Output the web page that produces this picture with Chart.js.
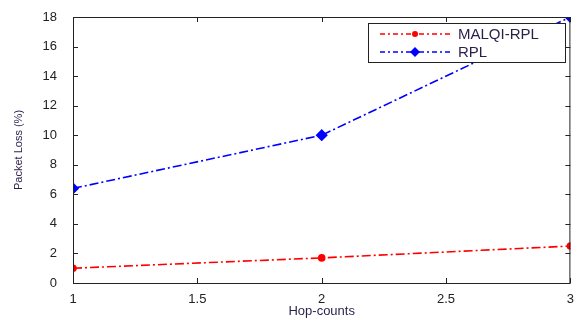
<!DOCTYPE html>
<html>
<head>
<meta charset="utf-8">
<script src="https://cdn.jsdelivr.net/npm/chart.js@4/dist/chart.umd.min.js"></script>
<style>
  body { margin: 0; background: #fff; }
  #wrap { width: 577px; height: 320px; }
</style>
</head>
<body>
<div id="wrap"><canvas id="lossChart" width="577" height="320"></canvas></div>
<script>
const hops = [1, 2, 3];
const malqiLoss = [1.0, 1.7, 2.5];
const rplLoss = [6.4, 10.0, 18.0];
const xTicks = [1, 1.5, 2, 2.5, 3];
const yTicks = [0, 2, 4, 6, 8, 10, 12, 14, 16, 18];

const dashDot = [9, 3, 2, 3];

// frame + inward ticks, matlab style
const framePlugin = {
  id: 'frame',
  afterDraw(chart) {
    const ctx = chart.ctx;
    const a = chart.chartArea;
    const xs = chart.scales.x, ys = chart.scales.y;
    ctx.save();
    ctx.strokeStyle = '#222';
    ctx.lineWidth = 1;
    ctx.setLineDash([]);
    ctx.strokeRect(a.left + 0.5, a.top + 0.5, a.right - a.left - 1, a.bottom - a.top);
    ctx.beginPath();
    xTicks.forEach(v => {
      const px = Math.round(xs.getPixelForValue(v)) + 0.5;
      ctx.moveTo(px, a.bottom); ctx.lineTo(px, a.bottom - 5);
      ctx.moveTo(px, a.top); ctx.lineTo(px, a.top + 5);
    });
    yTicks.forEach(v => {
      const py = Math.round(ys.getPixelForValue(v)) + 0.5;
      ctx.moveTo(a.left, py); ctx.lineTo(a.left + 5, py);
      ctx.moveTo(a.right, py); ctx.lineTo(a.right - 5, py);
    });
    ctx.stroke();

    // legend box
    const bx = 368, by = 23, bw = 197, bh = 39;
    ctx.fillStyle = '#fff';
    ctx.fillRect(bx, by, bw, bh);
    ctx.strokeRect(bx + 0.5, by + 0.5, bw, bh);
    ctx.font = '15px "Liberation Sans", Arial, sans-serif';
    ctx.textBaseline = 'middle';
    chart.data.datasets.forEach((ds, i) => {
      const yy = by + 11 + i * 18;
      ctx.strokeStyle = ds.borderColor;
      ctx.lineWidth = 1.5;
      ctx.setLineDash([5, 3, 2, 3]);
      ctx.beginPath();
      ctx.moveTo(bx + 12, yy); ctx.lineTo(bx + 82, yy);
      ctx.stroke();
      ctx.setLineDash([]);
      ctx.fillStyle = ds.borderColor;
      ctx.beginPath();
      if (ds.pointStyle === 'rectRot') {
        ctx.moveTo(bx + 47, yy - 5); ctx.lineTo(bx + 52, yy);
        ctx.lineTo(bx + 47, yy + 5); ctx.lineTo(bx + 42, yy);
        ctx.closePath();
      } else {
        ctx.arc(bx + 47, yy, 3, 0, Math.PI * 2);
      }
      ctx.fill();
      ctx.fillStyle = '#2a1f4a';
      ctx.fillText(ds.label, bx + 90, yy + 1);
    });
    ctx.restore();
  }
};

new Chart(document.getElementById('lossChart'), {
  type: 'line',
  data: {
    labels: hops,
    datasets: [
      {
        label: 'MALQI-RPL',
        data: hops.map((h, i) => ({ x: h, y: malqiLoss[i] })),
        borderColor: '#ff0000',
        backgroundColor: '#ff0000',
        borderWidth: 1.6,
        borderDash: dashDot,
        pointStyle: 'circle',
        pointRadius: 3,
        tension: 0
      },
      {
        label: 'RPL',
        data: hops.map((h, i) => ({ x: h, y: rplLoss[i] })),
        borderColor: '#0000ff',
        backgroundColor: '#0000ff',
        borderWidth: 1.6,
        borderDash: dashDot,
        pointStyle: 'rectRot',
        pointRadius: 5,
        tension: 0
      }
    ]
  },
  options: {
    responsive: false,
    animation: false,
    layout: { padding: { top: 17, right: 1, left: 0, bottom: 0 } },
    plugins: {
      legend: { display: false },
      tooltip: { enabled: false }
    },
    scales: {
      x: {
        type: 'linear',
        min: 1,
        max: 3,
        afterBuildTicks: s => { s.ticks = xTicks.map(v => ({ value: v })); },
        afterFit: s => { s.height = 37; s.paddingRight = 0; s.paddingLeft = 0; },
        grid: { display: false },
        border: { display: false },
        ticks: {
          color: '#222',
          font: { family: '"Liberation Sans", Arial, sans-serif', size: 13 },
          padding: 1,
          maxRotation: 0,
          callback: v => String(v)
        },
        title: {
          display: true,
          text: 'Hop-counts',
          color: '#2a1f4a',
          font: { family: '"Liberation Sans", Arial, sans-serif', size: 13 },
          padding: { top: 0, bottom: 1 }
        }
      },
      y: {
        min: 0,
        max: 18,
        afterBuildTicks: s => { s.ticks = yTicks.map(v => ({ value: v })); },
        afterFit: s => { s.width = 73; },
        grid: { display: false },
        border: { display: false },
        ticks: {
          color: '#222',
          font: { family: '"Liberation Sans", Arial, sans-serif', size: 13 },
          padding: 8
        },
        title: {
          display: true,
          text: 'Packet Loss (%)',
          color: '#2a1f4a',
          font: { family: '"Liberation Sans", Arial, sans-serif', size: 11 },
          padding: { top: 12, bottom: 0 }
        }
      }
    }
  },
  plugins: [framePlugin]
});
</script>
</body>
</html>
